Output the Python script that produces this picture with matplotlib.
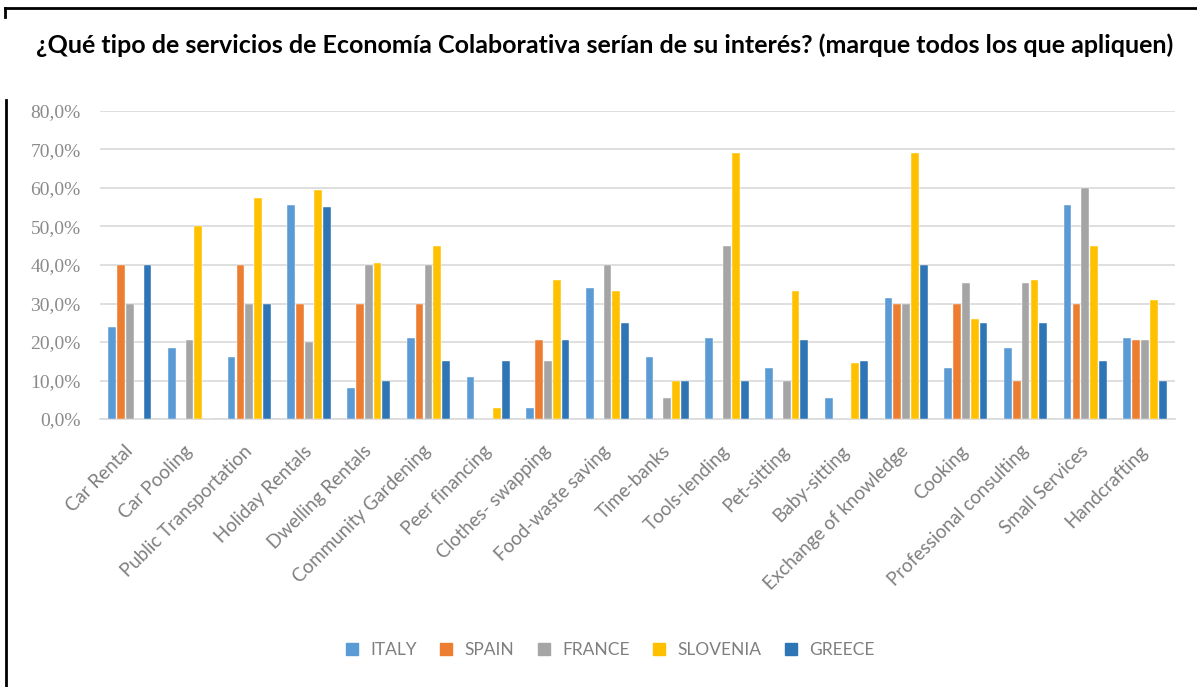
"""Bar chart: interest in sharing-economy services by country"""

import matplotlib

matplotlib.use("Agg")
import matplotlib.pyplot as plt
import numpy as np
from matplotlib.lines import Line2D
from matplotlib.ticker import FuncFormatter

services = [
    "Car Rental", "Car Pooling", "Public Transportation", "Holiday Rentals",
    "Dwelling Rentals", "Community Gardening", "Peer financing",
    "Clothes- swapping", "Food-waste saving", "Time-banks", "Tools-lending",
    "Pet-sitting", "Baby-sitting", "Exchange of knowledge", "Cooking",
    "Professional consulting", "Small Services", "Handcrafting",
]

italy = [23.8, 18.5, 16.0, 55.5, 8.0, 21.0, 10.8, 2.8, 34.0, 16.0, 21.0,
         13.3, 5.4, 31.4, 13.3, 18.5, 55.5, 21.0]
spain = [40.0, 0, 40.0, 30.0, 30.0, 30.0, 0, 20.5, 0, 0, 0,
         0, 0, 30.0, 30.0, 10.0, 30.0, 20.5]
france = [30.0, 20.5, 30.0, 20.0, 40.0, 40.0, 0, 15.0, 40.0, 5.5, 45.0,
          10.0, 0, 30.0, 35.3, 35.3, 60.0, 20.5]
slovenia = [0, 50.0, 57.5, 59.5, 40.5, 45.0, 2.8, 36.0, 33.3, 10.0, 69.2,
            33.3, 14.5, 69.2, 26.0, 36.0, 45.0, 30.8]
greece = [40.0, 0, 30.0, 55.0, 10.0, 15.0, 15.0, 20.5, 25.0, 10.0, 10.0,
          20.5, 15.0, 40.0, 25.0, 25.0, 15.0, 10.0]

countries = ["ITALY", "SPAIN", "FRANCE", "SLOVENIA", "GREECE"]
colors = ["#5B9BD5", "#ED7D31", "#A5A5A5", "#FFC000", "#2E75B6"]

fig = plt.figure(figsize=(11.97, 6.87), dpi=100)
ax = fig.add_axes([0.0835, 0.39, 0.898, 0.4485])

x = np.arange(len(services))
slot = 0.148
for i, (vals, col) in enumerate(zip([italy, spain, france, slovenia, greece], colors)):
    ax.bar(x + (i - 2) * slot, np.array(vals) / 100, width=slot * 0.88,
           color=col, edgecolor="white", linewidth=0.3, zorder=3)

ax.set_xlim(-0.5, len(services) - 0.5)
ax.set_ylim(0, 0.8)
ax.set_yticks(np.arange(0, 0.81, 0.1))
ax.yaxis.set_major_formatter(FuncFormatter(lambda v, _: f"{v * 100:.1f}%".replace(".", ",")))
ax.grid(axis="y", color="#d9d9d9", linewidth=1.2, zorder=0)
for s in ("top", "right", "left"):
    ax.spines[s].set_visible(False)
ax.spines["bottom"].set_color("#d9d9d9")
ax.spines["bottom"].set_linewidth(1.2)
ax.tick_params(axis="both", length=0)
ax.tick_params(axis="y", pad=14, labelcolor="#8a8a8a")
for lbl in ax.get_yticklabels():
    lbl.set_fontfamily("Liberation Serif")
    lbl.set_fontsize(14)

ax.set_xticks(x)
ax.set_xticklabels(services, rotation=45, ha="right", va="center",
                   rotation_mode="anchor", fontsize=13.5, color="#7f7f7f",
                   family="Lato")
ax.tick_params(axis="x", pad=21)

fig.text(0.505, 0.934, "¿Qué tipo de servicios de Economía Colaborativa serían de su interés? (marque todos los que apliquen)",
         ha="center", va="center", fontsize=18, fontweight="bold", family="Lato")

handles = [Line2D([], [], marker="s", linestyle="none", markersize=9,
                  markerfacecolor=c, markeredgecolor=c) for c in colors]
fig.legend(handles, countries, loc="center", bbox_to_anchor=(0.505, 0.054),
           ncol=5, frameon=False, handletextpad=0.05, columnspacing=0.7,
           prop={"family": "Lato", "size": 12.5}, labelcolor="#7f7f7f")

# frame lines at the top and left edge
fig.add_artist(Line2D([0.004, 1.0], [0.988, 0.988], color="black", linewidth=2))
fig.add_artist(Line2D([0.004, 0.004], [0.988, 0.975], color="black", linewidth=2))
fig.add_artist(Line2D([0.005, 0.005], [0.855, 0.0], color="black", linewidth=2))

fig.savefig("out.png", dpi=100)
